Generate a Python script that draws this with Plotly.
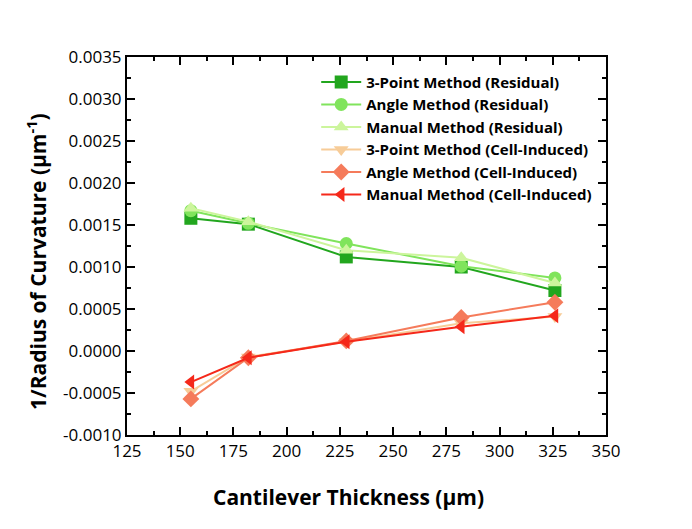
import plotly.graph_objects as go

thickness = [155, 182, 228, 282, 326]

three_point_res = [0.00158, 0.00151, 0.00112, 0.00100, 0.00072]
angle_res = [0.00167, 0.00152, 0.00128, 0.00101, 0.00087]
manual_res = [0.00170, 0.00154, 0.00120, 0.00111, 0.00081]
three_point_cell = [-0.00048, -0.00007, 0.00011, 0.00033, 0.00041]
angle_cell = [-0.00057, -0.00008, 0.00012, 0.00040, 0.00058]
manual_cell = [-0.00037, -0.00008, 0.00011, 0.00029, 0.00042]

names = [
    "3-Point Method (Residual)",
    "Angle Method (Residual)",
    "Manual Method (Residual)",
    "3-Point Method (Cell-Induced)",
    "Angle Method (Cell-Induced)",
    "Manual Method (Cell-Induced)",
]
series = [three_point_res, angle_res, manual_res, three_point_cell, angle_cell, manual_cell]
colors = ["#22a61e", "#80e45c", "#ccf59c", "#f7cc98", "#f57b5b", "#f5281a"]
symbols = ["square", "circle", "triangle-up", "triangle-down", "diamond", "triangle-left"]

y_ticks = [-0.001, -0.0005, 0.0, 0.0005, 0.001, 0.0015, 0.002, 0.0025, 0.003, 0.0035]
y_ticktext = ["-0.0010", "-0.0005", "0.0000", "0.0005", "0.0010", "0.0015",
              "0.0020", "0.0025", "0.0030", "0.0035"]

fig = go.Figure()
for n, s, c, m in zip(names, series, colors, symbols):
    fig.add_trace(go.Scatter(
        x=thickness, y=s, name="<b>" + n + "</b>", mode="lines+markers",
        line=dict(color=c, width=2),
        marker=dict(symbol=m, size=13, color=c),
    ))

font_family = "Open Sans, Lato, sans-serif"
axis_common = dict(
    showline=True, linecolor="black", linewidth=2, mirror="ticks",
    ticks="inside", ticklen=8, tickwidth=2, tickcolor="black",
    showgrid=False, zeroline=False,
    tickfont=dict(family=font_family, size=17, color="black"),
)
fig.update_xaxes(
    range=[125, 350], dtick=25, tick0=125,
    minor=dict(ticks="inside", ticklen=4, dtick=12.5, tickwidth=2, tickcolor="black"),
    **axis_common,
)
fig.update_yaxes(
    range=[-0.001, 0.0035], tickmode="array", tickvals=y_ticks, ticktext=y_ticktext,
    minor=dict(ticks="inside", ticklen=4, dtick=0.00025, tick0=-0.001, tickwidth=2, tickcolor="black"),
    **axis_common,
)
fig.add_annotation(
    text="<b>Cantilever Thickness (μm)</b>", xref="paper", yref="paper",
    x=(348 - 127) / 479, y=-(497 - 435) / 378, xanchor="center", yanchor="middle",
    showarrow=False, font=dict(family=font_family, size=21, color="black"),
)
fig.add_annotation(
    text="<b>1/Radius of Curvature (μm<sup>-1</sup>)</b>", xref="paper", yref="paper",
    x=-(127 - 36) / 479, y=(435 - 262) / 378, xanchor="center", yanchor="middle",
    textangle=-90, showarrow=False, font=dict(family=font_family, size=21, color="black"),
)
fig.update_layout(
    width=692, height=529,
    margin=dict(l=127, r=86, t=57, b=94),
    paper_bgcolor="white", plot_bgcolor="white",
    legend=dict(x=0.395, y=0.977, xanchor="left", yanchor="top",
                bgcolor="rgba(0,0,0,0)", font=dict(family=font_family, size=15, color="black"),
                tracegroupgap=0, itemwidth=40),
    showlegend=True,
)

fig.write_html("out.html")
